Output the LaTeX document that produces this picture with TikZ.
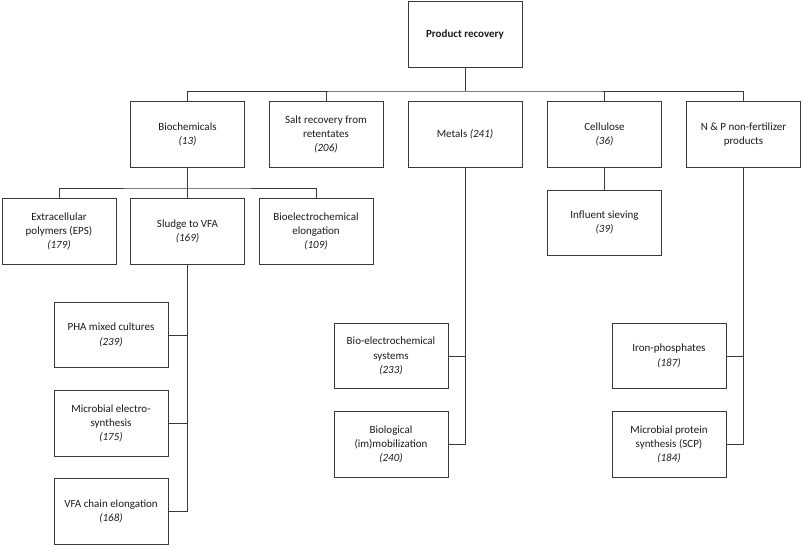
\documentclass[tikz,border=0pt]{standalone}
\usepackage{fontspec}
\setmainfont{Carlito}
\usepackage{tikz}
\usetikzlibrary{positioning}
\usepackage{xcolor}
\definecolor{ink}{HTML}{3A3A3A}
\definecolor{txt}{HTML}{1A1A1A}

\begin{document}
\begin{tikzpicture}[x=1pt,y=-1pt,font=\fontsize{11}{14.2}\selectfont,text=txt,
        b/.style={rectangle,draw=ink,line width=0.8pt,align=center,
                  minimum width=114pt,minimum height=65.5pt},
        l/.style={draw=ink,line width=0.8pt}]
        \useasboundingbox (0,0) rectangle (803,547);
        % top
        \node[b] (pr) at (465,34.5) {\textbf{Product recovery}};
        \node[b] (bio) at (187.5,134.5) {Biochemicals\\\textit{(13)}};
        \node[b] (salt) at (326,134.5) {Salt recovery from\\retentates\\\textit{(206)}};
        \node[b] (met) at (465,134.5) {Metals \textit{(241)}};
        \node[b] (cel) at (604.5,134.5) {Cellulose\\\textit{(36)}};
        \node[b] (np) at (743.5,134.5) {N \& P non-fertilizer\\products};
        % biochemicals
        \node[b] (eps) at (59,231.5) {Extracellular\\polymers (EPS)\\\textit{(179)}};
        \node[b] (vfa) at (187.5,231.5) {Sludge to VFA\\\textit{(169)}};
        \node[b] (bel) at (316,231.5) {Bioelectrochemical\\elongation\\\textit{(109)}};
        \node[b] (pha) at (111,335) {PHA mixed cultures\\\textit{(239)}};
        \node[b,below=22pt of pha] (mes) {Microbial electro-\\synthesis\\\textit{(175)}};
        \node[b,below=22pt of mes] (vce) {VFA chain elongation\\\textit{(168)}};
        % cellulose, metals, N & P
        \node[b,below=22pt of cel] (inf) {Influent sieving\\\textit{(39)}};
        \node[b] (bes) at (391,356) {Bio-electrochemical\\systems\\\textit{(233)}};
        \node[b,below=22pt of bes] (bim) {Biological\\(im)mobilization\\\textit{(240)}};
        \node[b] (fep) at (669,356) {Iron-phosphates\\\textit{(187)}};
        \node[b,below=22pt of fep] (mps) {Microbial protein\\synthesis (SCP)\\\textit{(184)}};
        \coordinate (hub) at (465,91);
        \coordinate (hub2) at (187.5,188);
        \draw[l] (pr) -- (hub);
        \draw[l] (bio.north) |- (hub) -| (np.north);
        \draw[l] (salt.north) -- (salt.north |- hub);
        \draw[l] (cel.north) -- (cel.north |- hub);
        \draw[l] (bio) -- (hub2);
        \draw[l] (eps.north) |- (hub2) -| (bel.north);
        \draw[l] (vfa.north) -- (hub2);
        \draw[l] (cel) -- (inf);
        \draw[l] (vfa.south) |- (vce.east);
        \draw[l] (pha.east) -- (pha.east -| vfa.south);
        \draw[l] (mes.east) -- (mes.east -| vfa.south);
        \draw[l] (met.south) |- (bim.east);
        \draw[l] (bes.east) -- (bes.east -| met.south);
        \draw[l] (np.south) |- (mps.east);
        \draw[l] (fep.east) -- (fep.east -| np.south);
      \end{tikzpicture}
\end{document}
